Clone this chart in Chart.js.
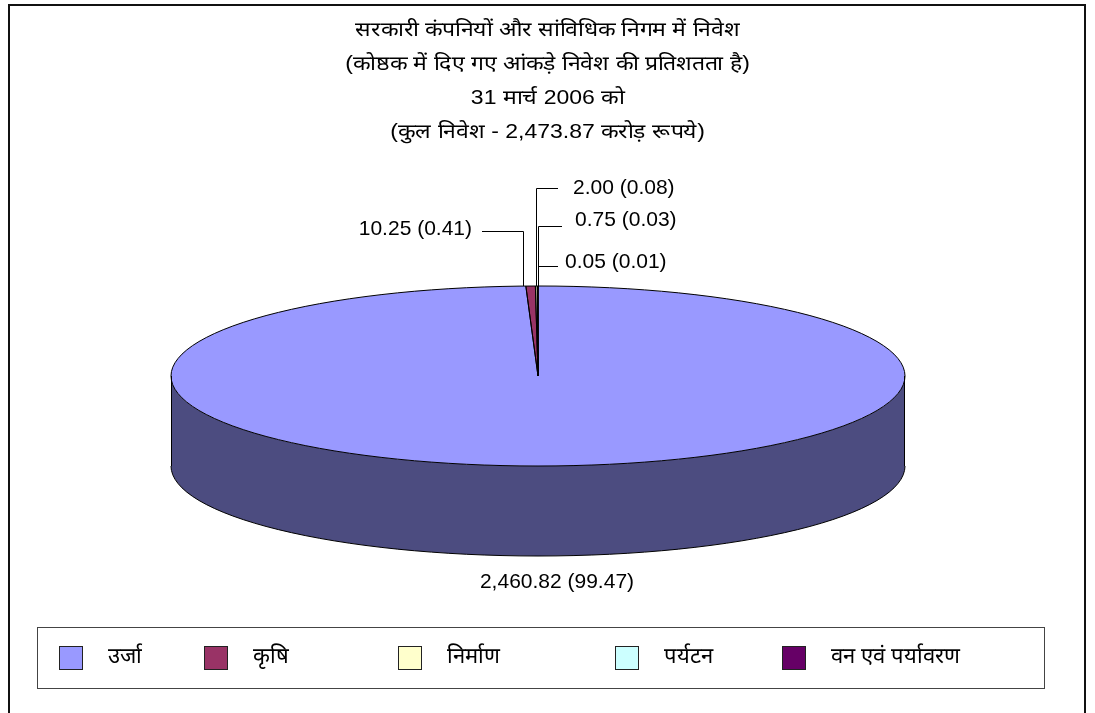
<!DOCTYPE html>
<html lang="hi">
<head>
<meta charset="utf-8">
<script src="https://cdn.jsdelivr.net/npm/chart.js@4.4.1/dist/chart.umd.min.js"></script>
<style>
  body { margin: 0; background: #fff; font-family: "Liberation Sans", Arial, sans-serif; color: #000; }
  #wrap { position: relative; width: 1095px; height: 713px; overflow: hidden; }
  #frame { position: absolute; left: 8px; top: 4px; width: 1074px; height: 740px; border: 2px solid #111; }
  #title { position: absolute; top: 12px; left: 0; width: 1095px; text-align: center; font-size: 20px; line-height: 34px; transform: scaleX(1.15); transform-origin: 547px 0; }
  #legend { position: absolute; left: 37px; top: 627px; width: 1006px; height: 60px; border: 1px solid #444; }
  .sw { position: absolute; top: 18px; width: 22px; height: 22px; border: 1px solid #222; }
  .lbl { position: absolute; top: 13px; font-size: 22px; line-height: 30px; white-space: nowrap; }
  canvas { position: absolute; left: 0; top: 0; }
</style>
</head>
<body>
<div id="wrap">
  <div id="frame"></div>
  <canvas id="pie" width="1095" height="713"></canvas>
  <div id="title"></div>
  <div id="legend"></div>
</div>
<script>
// 31 मार्च 2006 तक सरकारी कंपनियों में निवेश (करोड़ रूपये)
const TITLE = [
  "सरकारी कंपनियों और सांविधिक निगम में निवेश",
  "(कोष्ठक में दिए गए आंकड़े निवेश की प्रतिशतता है)",
  "31 मार्च 2006 को",
  "(कुल निवेश - 2,473.87 करोड़ रूपये)",
];
const CATEGORIES = ["उर्जा", "कृषि", "निर्माण", "पर्यटन", "वन एवं पर्यावरण"];
const INVESTMENT = [2460.82, 10.25, 2.00, 0.75, 0.05];
const SHARE = [99.47, 0.41, 0.08, 0.03, 0.01];

const TOP_COLORS = ["#9999FF", "#993366", "#FFFFCC", "#CCFFFF", "#660066"];
const SIDE_COLORS = ["#4C4C80", "#4D1A33", "#808066", "#668080", "#330033"];

// layout: label text positions, leader line ends, legend x-positions
const DEPTH = 90;
const LABEL_POS = [
  { x: 557, y: 582, align: "center" },
  { x: 472, y: 229, align: "right", ly: 231, lx: 482, dx: -8 },
  { x: 573, y: 188, align: "left", ly: 188, lx: 558, dx: 0 },
  { x: 575, y: 220, align: "left", ly: 226, lx: 562, dx: 0 },
  { x: 565, y: 262, align: "left", ly: 266, lx: 558, dx: 0 },
];
const LEGEND_X = [21, 166, 360, 577, 744];
const LEGEND_TEXT_GAP = 49;

const fmt = (v) => new Intl.NumberFormat("en-US", { minimumFractionDigits: 2, maximumFractionDigits: 2 }).format(v);

document.getElementById("title").innerHTML = TITLE.map((t) => `<div>${t}</div>`).join("");
document.getElementById("legend").innerHTML = CATEGORIES.map((c, i) =>
  `<div class="sw" style="left:${LEGEND_X[i]}px;background:${TOP_COLORS[i]}"></div>` +
  `<div class="lbl" style="left:${LEGEND_X[i] + LEGEND_TEXT_GAP}px">${c}</div>`).join("");

function geom(chart) {
  const arc = chart.getDatasetMeta(0).data[0];
  return { cx: arc.x, cy: arc.y, r: arc.outerRadius, rx: chart.chartArea.width / 2, ry: arc.outerRadius };
}

const line = (ctx, pts) => {
  ctx.beginPath();
  pts.forEach(([x, y], i) => (i ? ctx.lineTo(x, y) : ctx.moveTo(x, y)));
  ctx.stroke();
};

// चार्ट.जेएस के पाई को दीर्घवृत्त में खींचकर 3D जैसा बनाना
const pie3d = {
  id: "pie3d",
  beforeDatasetsDraw(chart) {
    const { ctx } = chart;
    const g = geom(chart);
    const arcs = chart.getDatasetMeta(0).data;
    arcs.forEach((arc, i) => {
      const s = Math.max(arc.startAngle, 0), e = Math.min(arc.endAngle, Math.PI);
      if (e <= s) return;
      ctx.beginPath();
      ctx.ellipse(g.cx, g.cy, g.rx, g.ry, 0, s, e);
      ctx.ellipse(g.cx, g.cy + DEPTH, g.rx, g.ry, 0, e, s, true);
      ctx.closePath();
      ctx.fillStyle = SIDE_COLORS[i];
      ctx.fill();
    });
    ctx.save();
    ctx.translate(g.cx, g.cy);
    ctx.scale(g.rx / g.r, g.ry / g.r);
    ctx.translate(-g.cx, -g.cy);
  },
  afterDatasetsDraw(chart) {
    const { ctx } = chart;
    ctx.restore();
    const g = geom(chart);
    const arcs = chart.getDatasetMeta(0).data;
    ctx.save();
    ctx.strokeStyle = "#000";
    ctx.lineWidth = 1;
    // side outline
    ctx.beginPath();
    ctx.ellipse(g.cx, g.cy + DEPTH, g.rx, g.ry, 0, 0, Math.PI);
    ctx.stroke();
    line(ctx, [[g.cx - g.rx + 0.5, g.cy], [g.cx - g.rx + 0.5, g.cy + DEPTH]]);
    line(ctx, [[g.cx + g.rx - 0.5, g.cy], [g.cx + g.rx - 0.5, g.cy + DEPTH]]);
    // top outline
    ctx.beginPath();
    ctx.ellipse(g.cx, g.cy, g.rx, g.ry, 0, 0, Math.PI * 2);
    ctx.stroke();
    arcs.forEach((arc) => {
      [arc.startAngle, arc.endAngle].forEach((a) =>
        line(ctx, [[g.cx, g.cy], [g.cx + g.rx * Math.cos(a), g.cy + g.ry * Math.sin(a)]]));
    });
    ctx.restore();
  },
  afterDraw(chart) {
    const { ctx } = chart;
    const g = geom(chart);
    const arcs = chart.getDatasetMeta(0).data;
    ctx.save();
    ctx.strokeStyle = "#000";
    ctx.fillStyle = "#000";
    ctx.lineWidth = 1;
    ctx.font = '21px "Liberation Sans", Arial, sans-serif';
    ctx.textBaseline = "middle";
    arcs.forEach((arc, i) => {
      const p = LABEL_POS[i];
      if (p.lx !== undefined) {
        const mid = (arc.startAngle + arc.endAngle) / 2;
        const ax = Math.round(g.cx + g.rx * Math.cos(mid) + p.dx) + 0.5;
        const ay = g.cy + g.ry * Math.sin(mid);
        line(ctx, [[ax, ay], [ax, p.ly + 0.5], [p.lx, p.ly + 0.5]]);
      }
      ctx.textAlign = p.align;
      ctx.fillText(`${fmt(INVESTMENT[i])} (${SHARE[i].toFixed(2)})`, p.x, p.y);
    });
    ctx.restore();
  },
};

new Chart(document.getElementById("pie"), {
  type: "pie",
  data: {
    labels: CATEGORIES,
    datasets: [{ data: INVESTMENT, backgroundColor: TOP_COLORS, borderWidth: 0, clip: false }],
  },
  options: {
    responsive: false,
    animation: false,
    events: [],
    layout: { padding: { left: 171, right: 190, top: 286, bottom: 247 } },
    plugins: { legend: { display: false }, tooltip: { enabled: false }, title: { display: false } },
  },
  plugins: [pie3d],
});
</script>
</body>
</html>
